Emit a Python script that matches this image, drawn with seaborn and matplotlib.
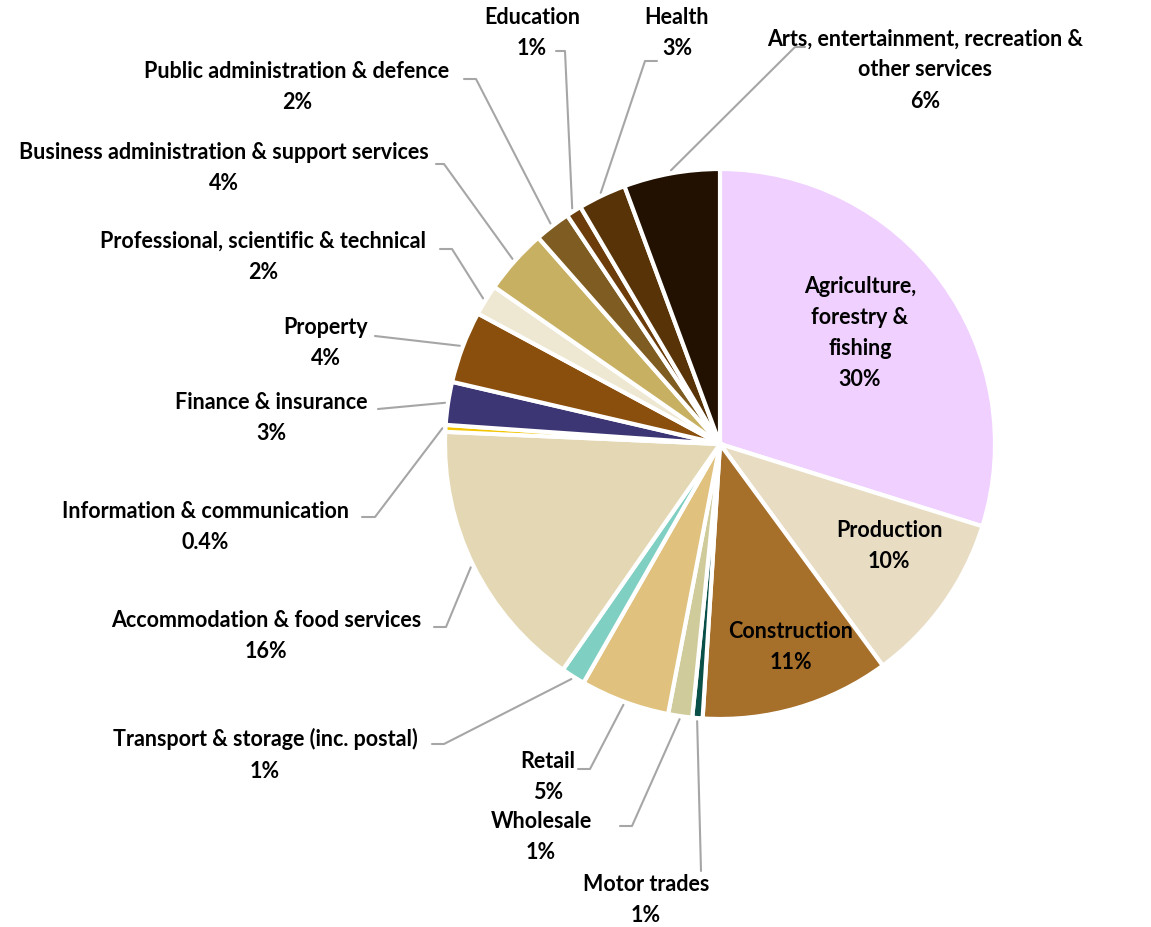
import numpy as np
import matplotlib
matplotlib.use('Agg')
import matplotlib.pyplot as plt
import seaborn as sns

# sector shares (%), clockwise from 12 o'clock
sectors = ['Agriculture,\nforestry &\nfishing', 'Production', 'Construction', 'Motor trades',
           'Wholesale', 'Retail', 'Transport & storage (inc. postal)', 'Accommodation & food services',
           'Information & communication', 'Finance & insurance', 'Property',
           'Professional, scientific & technical', 'Business administration & support services',
           'Public administration & defence', 'Education', 'Health',
           'Arts, entertainment, recreation &\nother services']
shares = [29.6, 10.0, 11.0, 0.6, 1.4, 5.2, 1.4, 15.9, 0.4, 2.5, 4.2, 1.8, 3.8, 2.1, 0.9, 2.8, 5.6]
pct_text = ['30%', '10%', '11%', '1%', '1%', '5%', '1%', '16%', '0.4%', '3%', '4%', '2%', '4%',
            '2%', '1%', '3%', '6%']
colours = ['#F0D0FF', '#E8DCC3', '#A66F2A', '#0A4F48', '#CFCB9B', '#E0C27E', '#7FCFC3', '#E4D8B4',
           '#F2C500', '#3C3675', '#8B4F0D', '#EEE7D1', '#C8B063', '#7F5C21', '#6C3D0A', '#573307',
           '#221100']

W, H = 1151, 928
cx, cy, rad = 720, 445, 275

# label layout in pixel coords (x, y from top); elbow = None means label inside the pie
label_pos = [(860, 333), (889, 546), (791, 647), (646, 900), (541, 837), (548, 777), (265, 755),
             (266, 636), (205, 527), (271, 418), (326, 343), (263, 257), (224, 168), (297, 87),
             (532, 33), (677, 33), (925, 70)]
elbows = [None, None, None, (701, 872), (632, 827), (590, 770), (444, 745), (446, 628), (375, 518),
          (378, 410), (375, 337), (452, 250), (444, 165), (476, 80), (565, 52), (645, 62), (795, 48)]
tails = [None, None, None, None, (620, 827), (578, 770), (432, 745), (434, 628), (362, 518),
         None, None, (440, 250), (436, 165), (464, 80), (556, 52), (657, 62), (805, 48)]


def main():
    sns.set_theme(style='white')
    plt.rcParams['font.family'] = ['Lato', 'DejaVu Sans']
    fig = plt.figure(figsize=(W / 100, H / 100), dpi=100)
    ax = fig.add_axes([0, 0, 1, 1])
    wedges, _ = ax.pie(shares, colors=colours, startangle=90, counterclock=False,
                       center=(cx, H - cy), radius=rad,
                       wedgeprops=dict(edgecolor='white', linewidth=3))
    for i, w in enumerate(wedges):
        tx, ty = label_pos[i]
        ax.text(tx, H - ty, f'{sectors[i]}\n{pct_text[i]}', ha='center', va='center',
                fontsize=15.5, fontweight='bold', color='black', linespacing=1.6)
        if elbows[i] is None:
            continue
        mid = np.deg2rad((w.theta1 + w.theta2) / 2)
        sx = cx + (rad + 3) * np.cos(mid)
        sy = H - cy + (rad + 3) * np.sin(mid)
        xs = [sx, elbows[i][0]]
        ys = [sy, H - elbows[i][1]]
        if tails[i] is not None:
            xs.append(tails[i][0])
            ys.append(H - tails[i][1])
        ax.plot(xs, ys, color='#A6A6A6', lw=1.5, zorder=0)
    ax.set_xlim(0, W)
    ax.set_ylim(0, H)
    ax.set_aspect('equal')
    ax.axis('off')
    fig.savefig('out.png', dpi=100, facecolor='white')


main()
